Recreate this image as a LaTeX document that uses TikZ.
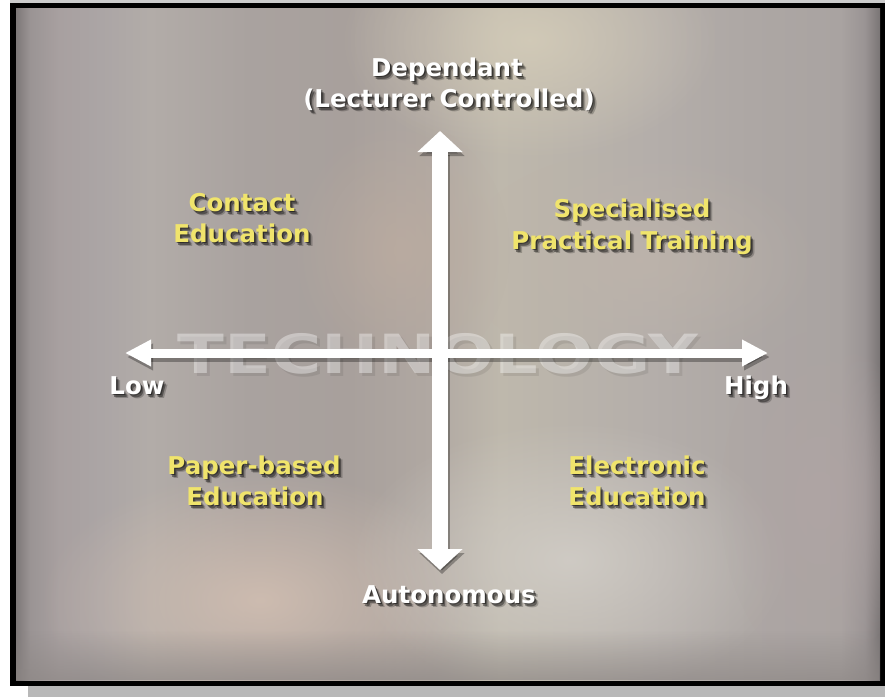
\documentclass[tikz,border=0pt]{standalone}
\usepackage{fontspec}
\setmainfont{DejaVu Sans}
\usetikzlibrary{arrows.meta,fadings}
\definecolor{bgA}{HTML}{7D7878}
\definecolor{bgB}{HTML}{9A9494}
\definecolor{bgC}{HTML}{A8A0A0}
\definecolor{bgD}{HTML}{ABA5A5}
\definecolor{bgE}{HTML}{B2ACA8}
\definecolor{bgF}{HTML}{A9A29F}
\definecolor{bgG}{HTML}{A8A09C}
\definecolor{bgH}{HTML}{B0A8A2}
\definecolor{bgI}{HTML}{BEB8AC}
\definecolor{bgJ}{HTML}{BAB4AB}
\definecolor{bgK}{HTML}{B4AEAA}
\definecolor{bgL}{HTML}{ADA7A4}
\definecolor{bgM}{HTML}{A9A3A1}
\definecolor{bgN}{HTML}{9A9494}
\definecolor{bgO}{HTML}{7A7575}
\definecolor{labyellow}{HTML}{F0E46C}
\definecolor{shadowgrey}{HTML}{B8B8B8}
\pgfdeclarehorizontalshading{bgshade}{100bp}{color(0bp)=(bgA); color(25bp)=(bgA); color(25.8bp)=(bgB); color(27.5bp)=(bgC); color(29.9bp)=(bgD); color(32.75bp)=(bgE); color(38.5bp)=(bgF); color(44.3bp)=(bgG); color(49bp)=(bgH); color(53bp)=(bgI); color(56.5bp)=(bgJ); color(61.7bp)=(bgK); color(67.5bp)=(bgL); color(72.7bp)=(bgM); color(74.1bp)=(bgN); color(75bp)=(bgO); color(100bp)=(bgO)}
\tikzfading[name=blobfade, inner color=transparent!20, outer color=transparent!100]
\tikzfading[name=bottomfade, top color=transparent!100, bottom color=transparent!35]
\newcommand\shtext[5]{%
  \node[lbl, text=black, opacity=.22] (#1s3) at (#2+4,#3+4.5) {#5};
  \node[lbl, text=black, opacity=.38] (#1s2) at (#2+2.5,#3+3) {#5};
  \node[lbl, text=black, opacity=.45] (#1s1) at (#2+1.2,#3+1.5) {#5};
  \node[lbl, text=#4] (#1) at (#2,#3) {#5};
}
\begin{document}
\begin{tikzpicture}[x=1pt,y=-1pt,
  lbl/.style={anchor=base, inner sep=0pt, font=\bfseries\fontsize{24.5}{30}\selectfont},
  blob/.style={path fading=blobfade},
  vaxis/.style={line width=16pt, {Triangle[length=21pt,width=44pt]}-{Triangle[length=21pt,width=44pt]}},
  haxis/.style={line width=9pt, {Triangle[length=26pt,width=25pt]}-{Triangle[length=26pt,width=25pt]}}]
\useasboundingbox (0,0) rectangle (885,697);
% frame and shadow
\fill[shadowgrey] (28,686) rectangle (885,697);
\fill[black!20] (10,0) rectangle (885,3);
\fill[black] (10,3) rectangle (885,686);
\begin{scope}
\clip (16,8) rectangle (880,680);
\fill[shading=bgshade] (16,8) rectangle (880,680);
\fill[blob, color={rgb,255:red,214;green,206;blue,186}] (530,40) ellipse [x radius=190pt, y radius=120pt];
\fill[blob, color={rgb,255:red,188;green,172;blue,160}] (400,250) ellipse [x radius=110pt, y radius=130pt];
\fill[blob, color={rgb,255:red,190;green,180;blue,170}] (640,260) ellipse [x radius=180pt, y radius=110pt];
\fill[blob, color={rgb,255:red,214;green,194;blue,180}] (260,600) ellipse [x radius=220pt, y radius=130pt];
\fill[blob, color={rgb,255:red,212;green,208;blue,202}] (570,560) ellipse [x radius=220pt, y radius=140pt];
\fill[blob, color={rgb,255:red,176;green,164;blue,164}] (820,500) ellipse [x radius=100pt, y radius=170pt];
\fill[color={rgb,255:red,140;green,134;blue,132}, path fading=bottomfade] (16,630) rectangle (880,680);
\end{scope}
% watermark
\node[inner sep=0pt, text=black, opacity=.08, font=\bfseries\fontsize{54}{60}\selectfont] (techs) at (441,357) {\scalebox{1.27}[1]{TECHNOLOGY}};
\node[inner sep=0pt, text=white, opacity=.38, font=\bfseries\fontsize{54}{60}\selectfont] (tech) at (438,354) {\scalebox{1.27}[1]{TECHNOLOGY}};
% axis end points
\coordinate (vtop) at (440,131);
\coordinate (vbot) at (440,570);
\coordinate (hleft) at (125,353);
\coordinate (hright) at (768,353);
\coordinate (vtops) at (442,135);
\coordinate (vbots) at (442,574);
\coordinate (hlefts) at (127,357);
\coordinate (hrights) at (770,357);
% arrow shadows
\draw[haxis, black, opacity=.3] (hlefts) -- (hrights);
\draw[vaxis, black, opacity=.3] (vtops) -- (vbots);
% arrows
\draw[haxis, white] (hleft) -- (hright);
\draw[vaxis, white] (vtop) -- (vbot);
% labels
\shtext{dep}{447}{76}{white}{Dependant}
\shtext{lec}{449}{107}{white}{(Lecturer Controlled)}
\shtext{con}{242}{211}{labyellow}{Contact}
\shtext{cedu}{242}{242}{labyellow}{Education}
\shtext{spe}{632}{217}{labyellow}{Specialised}
\shtext{pra}{632}{249}{labyellow}{Practical Training}
\shtext{low}{137}{394}{white}{Low}
\shtext{high}{756}{394}{white}{High}
\shtext{pap}{254}{474}{labyellow}{Paper-based}
\shtext{pedu}{255}{505}{labyellow}{Education}
\shtext{ele}{637}{474}{labyellow}{Electronic}
\shtext{eedu}{637}{505}{labyellow}{Education}
\shtext{aut}{449}{603}{white}{Autonomous}
\end{tikzpicture}
\end{document}
